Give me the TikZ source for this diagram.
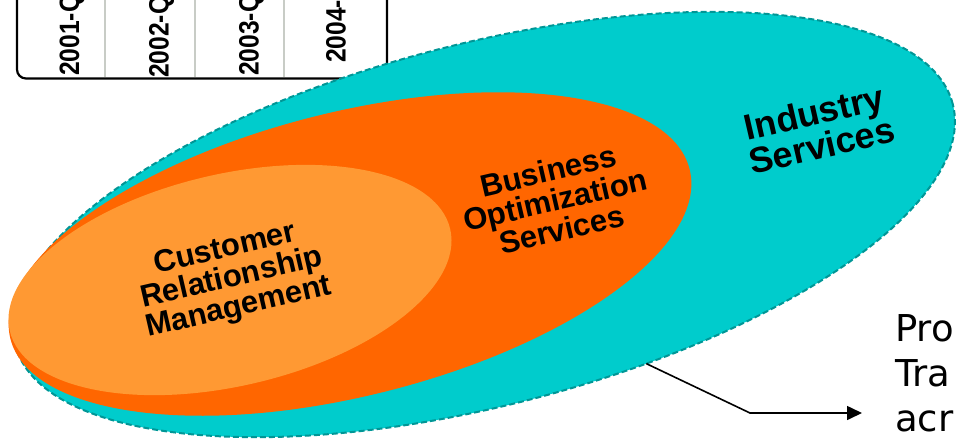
\documentclass[tikz,border=0pt]{standalone}
\usepackage{fontspec}
\usetikzlibrary{shapes.geometric,arrows.meta}
\newfontfamily\lblfont{Liberation Sans}
\newfontfamily\tblfont{Liberation Sans}
\newfontfamily\rtfont{DejaVu Sans}
\definecolor{cyanfill}{RGB}{0,204,204}
\definecolor{tealdash}{RGB}{0,150,150}
\definecolor{darkorng}{RGB}{255,102,0}
\definecolor{lightorng}{RGB}{255,153,51}
\definecolor{divgray}{RGB}{200,204,198}
\begin{document}
\begin{tikzpicture}[x=1pt,y=-1pt,
  ellbase/.style={ellipse, inner sep=0pt, outer sep=0pt},
  lbl/.style={align=center, inner sep=0pt, rotate=13, font=\lblfont\bfseries\fontsize{31}{30}\selectfont},
  indlbl/.style={align=center, inner sep=0pt, rotate=13, font=\lblfont\bfseries\fontsize{36}{34}\selectfont},
  tbl/.style={rotate=90, anchor=base west, inner sep=0pt, font=\tblfont\bfseries\fontsize{28}{28}\selectfont},
  rt/.style={anchor=base west, inner sep=0pt, font=\rtfont\fontsize{37}{37}\selectfont},
  divider/.style={draw=divgray, line width=2pt},
  connector/.style={draw=black, line width=1.6pt, -{Triangle[length=15pt,width=14pt]}}
]
\useasboundingbox (0,0) rectangle (958,440);
\clip (0,0) rectangle (958,440);
\fill[white] (0,0) rectangle (958,440);

% table fragment
\draw[divider] (105,-5) -- (105,77);
\draw[divider] (195,-5) -- (195,77);
\draw[divider] (283.5,-5) -- (283.5,77);
\draw[black, line width=2.2pt, rounded corners=9pt] (17,-30) rectangle (387,78.5);
\node[tbl] (y1) at (79,76) {\scalebox{0.88}[1]{2001-Q}};
\node[tbl] (y2) at (168.5,78) {\scalebox{0.88}[1]{2002-Q}};
\node[tbl] (y3) at (258.5,76) {\scalebox{0.88}[1]{2003-Q}};
\node[tbl] (y4) at (345.5,63) {\scalebox{0.88}[1]{2004-}};

% ellipses
\node[ellbase, fill=cyanfill, draw=tealdash, line width=2pt, dash pattern=on 6pt off 3pt,
      minimum width=968pt, minimum height=362pt, rotate=14.4] (ind) at (484,224.5) {};
\node[ellbase, fill=darkorng, minimum width=700pt, minimum height=284pt, rotate=14] (bos) at (350,254) {};
\node[ellbase, fill=lightorng, minimum width=452pt, minimum height=212pt, rotate=13] (crm) at (230,280) {};

% labels
\node[lbl] (crmtxt) at (232,279) {Customer\\Relationship\\Management};
\node[lbl] (bostxt) at (555,200) {Business\\Optimization\\Services};
\node[indlbl] (indtxt) at (818,129) {Industry\\Services};

% right text
\node[rt] (t1) at (895,341) {Pro};
\node[rt] (t2) at (895,386) {Tra};
\node[rt] (t3) at (895,431) {acr};

% connector
\coordinate (bend) at (750,413);
\coordinate (tip) at (862,413);
\draw[connector] (ind.-55) -- (bend) -- (tip);
\end{tikzpicture}
\end{document}
